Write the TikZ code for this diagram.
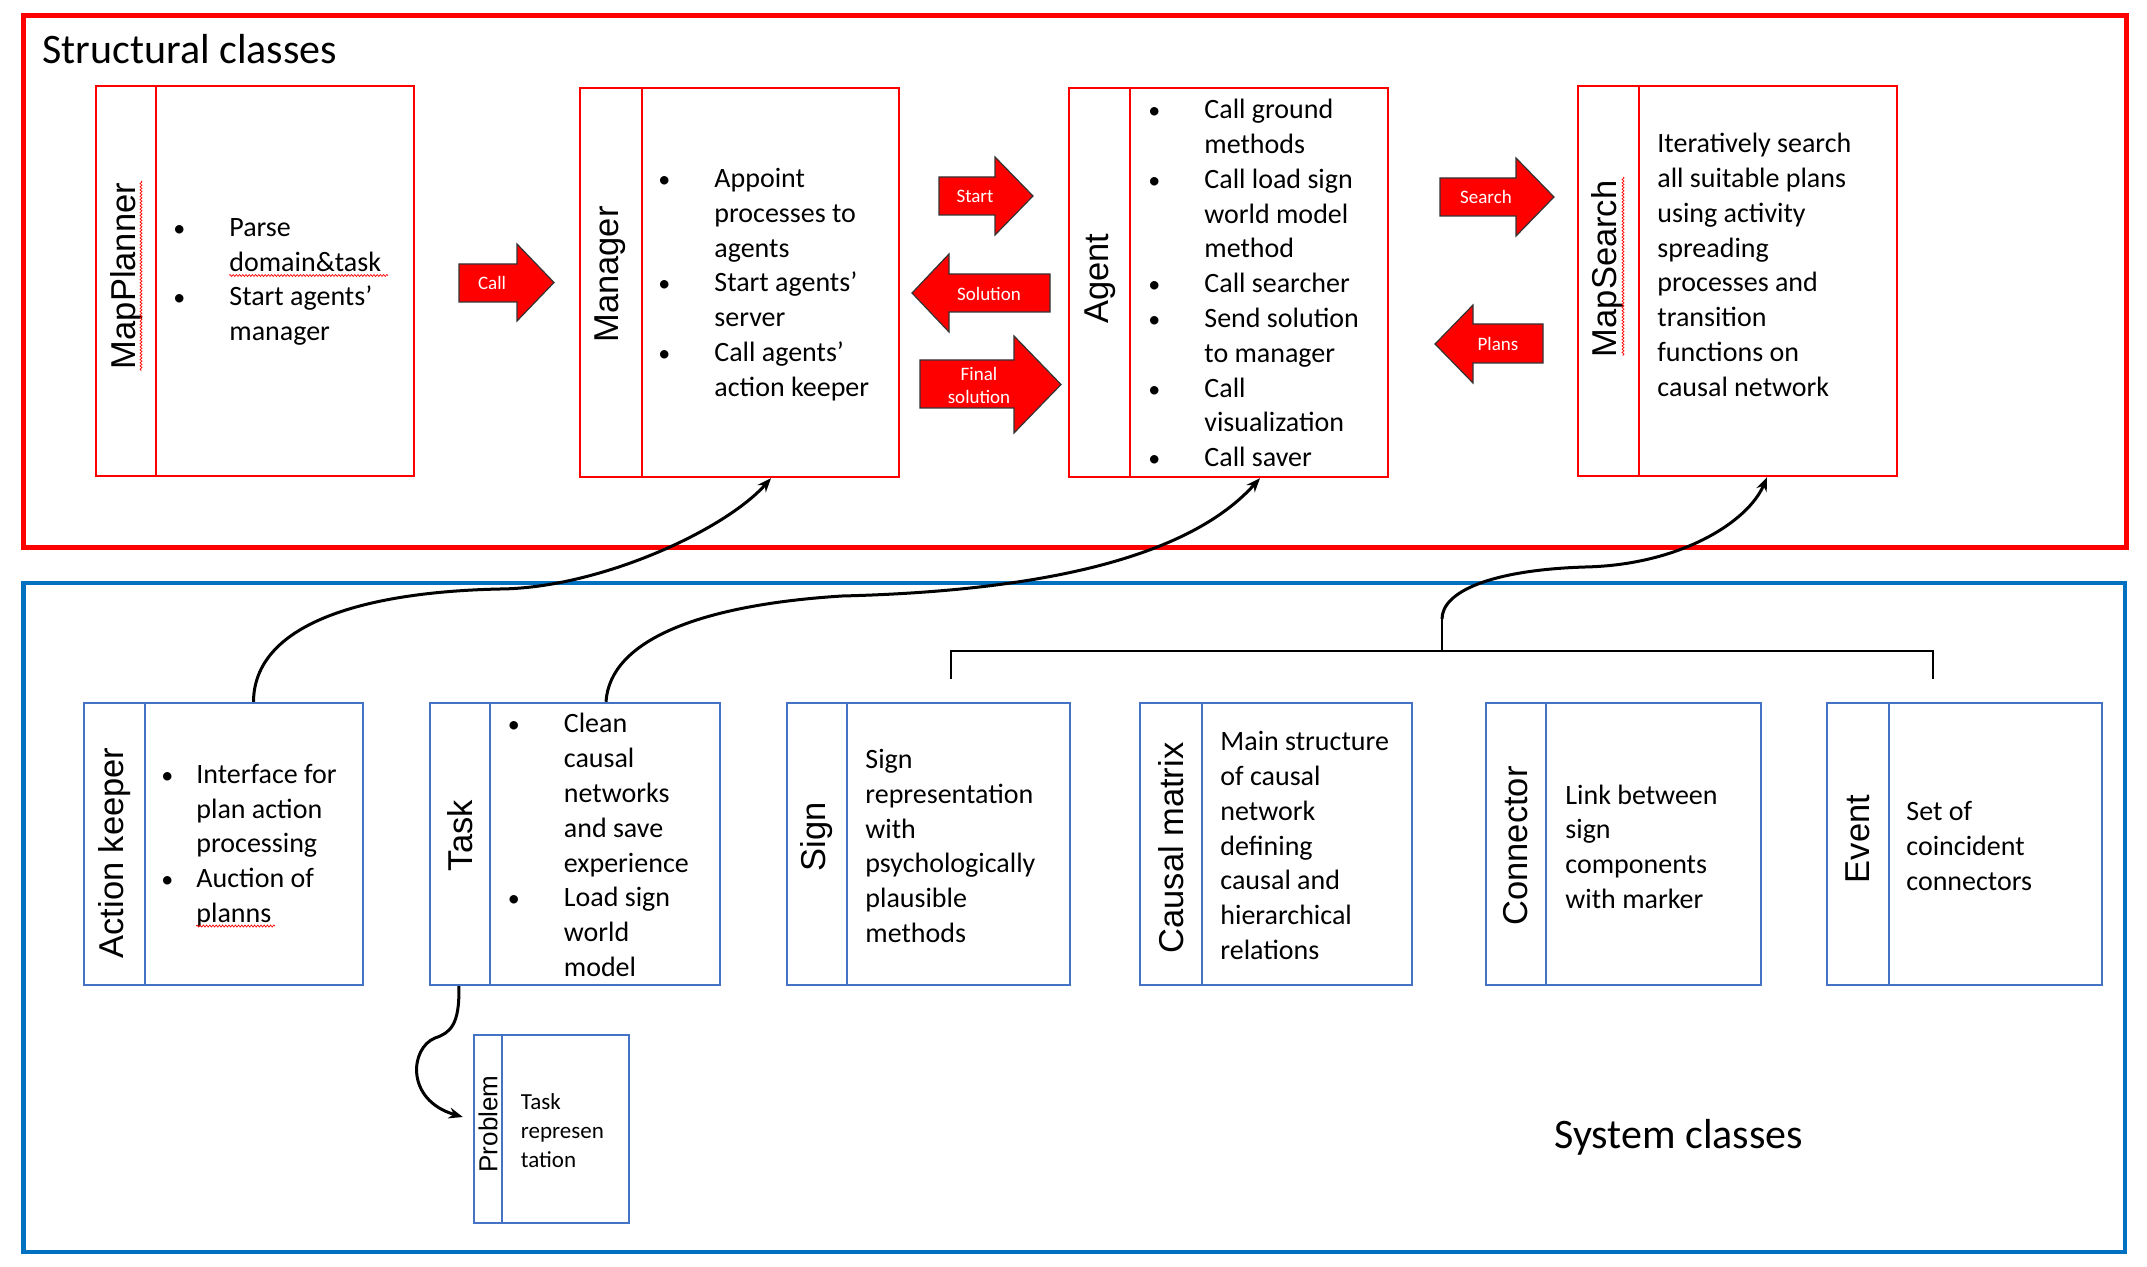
\documentclass[tikz,border=0pt]{standalone}
\usepackage{fontspec}
\setmainfont{Carlito}
\newfontfamily\ttlfont{Liberation Sans}
\usetikzlibrary{fit,arrows.meta,decorations.pathmorphing}
\definecolor{sred}{RGB}{255,0,0}
\definecolor{oblue}{RGB}{0,112,192}
\definecolor{iblue}{RGB}{68,114,196}
\newcommand\bul{\makebox[0pt]{\fontsize{12}{12}\selectfont\textbullet}}
\newcommand\bi[1]{\bul\hspace{25pt}#1}
\newcommand\bc[1]{\hspace*{25pt}#1}
\newcommand\bik[1]{\bul\hspace{14.5pt}#1}
\newcommand\bck[1]{\hspace*{14.5pt}#1}
\begin{document}
\begin{tikzpicture}[x=0.5pt,y=-0.5pt,
  rbox/.style={draw=sred,line width=1.2pt,inner sep=0pt},
  bbox/.style={draw=iblue,line width=1.2pt,inner sep=0pt},
  rdiv/.style={draw=sred,line width=1.2pt},
  bdiv/.style={draw=iblue,line width=1.2pt},
  ttl/.style={font=\ttlfont\fontsize{17.25}{20}\selectfont,rotate=90,inner sep=0pt},
  body/.style={font=\fontsize{14}{17.4}\selectfont,align=left,inner sep=0pt,anchor=west},
  barrow/.style={fill=sred,draw=black!80,line width=0.6pt},
  alab/.style={font=\fontsize{9.5}{11.5}\selectfont,text=white,align=center,inner sep=0pt},
  link/.style={draw=black,line width=1.5pt,-{Stealth[length=7pt,width=5.5pt]}},
  brk/.style={draw=black,line width=1pt},
  squig/.style={draw=sred,line width=0.35pt,decorate,decoration={snake,amplitude=0.5pt,segment length=1.6pt}},
  bigtitle/.style={font=\fontsize{21}{25}\selectfont,inner sep=0pt,anchor=base west}
]
\fill[white] (0,0) rectangle (2147,1267);
\useasboundingbox (0,0) rectangle (2147,1267);

% outer frames
\node[fit={(23.5,15.5)(2126.5,547.5)}, draw=sred, line width=2.25pt, inner sep=0pt] (structural) {};
\node[fit={(23.5,583)(2125,1252)}, draw=oblue, line width=2.25pt, inner sep=0pt] (system) {};
\node[bigtitle] (sttl) at (42,63.6) {Structural classes};
\node[bigtitle] (syttl) at (1554,1148) {System classes};

% structural classes
\node[rbox, fit={(96,86)(414,476)}] (mp) {};
\draw[rdiv] (156,86) -- (156,476);
\node[ttl] (mpT) at (126.3,276) {MapPlanner};
\node[body] (mpB) at (179,282) {\bi{Parse}\\ \bc{domain\&task}\\ \bi{Start agents’}\\ \bc{manager}};
\draw[squig] (141,181) -- (141,371);
\draw[squig] (229,275.5) -- (388,275.5);

\node[rbox, fit={(580,88)(899,477)}] (mgr) {};
\draw[rdiv] (642,88) -- (642,477);
\node[ttl] (mgrT) at (610,274.5) {Manager};
\node[body] (mgrB) at (664,284.5) {\bi{Appoint}\\ \bc{processes to}\\ \bc{agents}\\ \bi{Start agents’}\\ \bc{server}\\ \bi{Call agents’}\\ \bc{action keeper}};

\node[rbox, fit={(1069,88)(1388,477)}] (ag) {};
\draw[rdiv] (1130,88) -- (1130,477);
\node[ttl] (agT) at (1100.5,278.6) {Agent};
\node[body] (agB) at (1154,283) {\bi{Call ground}\\ \bc{methods}\\ \bi{Call load sign}\\ \bc{world model}\\ \bc{method}\\ \bi{Call searcher}\\ \bi{Send solution}\\ \bc{to manager}\\ \bi{Call}\\ \bc{visualization}\\ \bi{Call saver}};

\node[rbox, fit={(1578,86)(1897,476)}] (ms) {};
\draw[rdiv] (1639,86) -- (1639,476);
\node[ttl] (msT) at (1608,268.8) {MapSearch};
\draw[squig] (1623,177) -- (1623,356);
\node[body] (msB) at (1657,264.8) {Iteratively search\\ all suitable plans\\ using activity\\ spreading\\ processes and\\ transition\\ functions on\\ causal network};

% block arrows
\filldraw[barrow] (459,264) -- (517,264) -- (517,244) -- (554,282.5) -- (517,321) -- (517,302) -- (459,302) -- cycle;
\node[alab] (callL) at (492,283) {Call};
\filldraw[barrow] (939,177) -- (995,177) -- (995,157) -- (1033,196) -- (995,235) -- (995,215) -- (939,215) -- cycle;
\node[alab] (startL) at (975,196) {Start};
\filldraw[barrow] (1050,274) -- (949,274) -- (949,254) -- (912,293) -- (949,332) -- (949,312) -- (1050,312) -- cycle;
\node[alab] (solL) at (989,294) {Solution};
\filldraw[barrow] (920,360) -- (1014,360) -- (1014,336) -- (1061,384.5) -- (1014,433) -- (1014,408) -- (920,408) -- cycle;
\node[alab] (finL) at (979,385) {Final\\solution};
\filldraw[barrow] (1440,178) -- (1516,178) -- (1516,158) -- (1554,197) -- (1516,236) -- (1516,216) -- (1440,216) -- cycle;
\node[alab] (searchL) at (1486,197) {Search};
\filldraw[barrow] (1543,324) -- (1473,324) -- (1473,305) -- (1435,344) -- (1473,383) -- (1473,363) -- (1543,363) -- cycle;
\node[alab] (plansL) at (1498,344) {Plans};

% system classes
\node[bbox, fit={(84,703)(363,985)}] (ak) {};
\draw[bdiv] (145,703) -- (145,985);
\node[ttl] (akT) at (114.5,853) {Action keeper};
\node[body] (akB) at (167,845.5) {\bik{Interface for}\\ \bck{plan action}\\ \bck{processing}\\ \bik{Auction of}\\ \bck{planns}};
\draw[squig] (196,926) -- (275,926);

\node[bbox, fit={(430,703)(720,985)}] (task) {};
\draw[bdiv] (490,703) -- (490,985);
\node[ttl] (taskT) at (460,835.6) {Task};
\node[body] (taskB) at (513.5,845) {\bi{Clean}\\ \bc{causal}\\ \bc{networks}\\ \bc{and save}\\ \bc{experience}\\ \bi{Load sign}\\ \bc{world}\\ \bc{model}};

\node[bbox, fit={(787,703)(1070,985)}] (sign) {};
\draw[bdiv] (847,703) -- (847,985);
\node[ttl] (signT) at (817,837) {Sign};
\node[body] (signB) at (865,846) {Sign\\ representation\\ with\\ psychologically\\ plausible\\ methods};

\node[bbox, fit={(1140,703)(1412,985)}] (cm) {};
\draw[bdiv] (1202,703) -- (1202,985);
\node[ttl] (cmT) at (1171,848) {Causal matrix};
\node[body] (cmB) at (1220,845.5) {Main structure\\ of causal\\ network\\ defining\\ causal and\\ hierarchical\\ relations};

\node[bbox, fit={(1486,703)(1761,985)}] (cn) {};
\draw[bdiv] (1546,703) -- (1546,985);
\node[ttl] (cnT) at (1516,846) {Connector};
\node[body] (cnB) at (1565,846.7) {Link between\\ sign\\ components\\ with marker};

\node[bbox, fit={(1827,703)(2102,985)}] (ev) {};
\draw[bdiv] (1889,703) -- (1889,985);
\node[ttl] (evT) at (1858,839) {Event};
\node[body] (evB) at (1906,846) {Set of\\ coincident\\ connectors};

\node[bbox, fit={(474,1035)(629,1223)}] (prob) {};
\draw[bdiv] (502,1035) -- (502,1223);
\node[ttl, font=\ttlfont\fontsize{13}{15}\selectfont] (probT) at (488,1124) {Problem};
\node[body, font=\fontsize{11.5}{14.5}\selectfont] (probB) at (520.5,1131) {Task\\ represen\\ tation};

% bracket
\coordinate (brL) at (951,679);
\coordinate (brR) at (1933,679);
\coordinate (brM) at (1442,651);
\draw[brk] (brL) -- (951,651) -- (1933,651) -- (brR);
\draw[brk] (brM) -- (1442,619);

% links
\draw[link] ([xshift=15pt]ak.north) .. controls (254,625) and (360,592) .. (500,589)
  .. controls (600,588) and (725,530) .. ([xshift=15.75pt]mgr.south);
\draw[link] ([xshift=15.5pt]task.north) .. controls (610,640) and (700,605) .. (842,596)
  .. controls (1080,590) and (1200,545) .. ([xshift=15.75pt]ag.south);
\draw[link] (1442,619) .. controls (1442,592) and (1490,570) .. (1585,567)
  .. controls (1680,565) and (1748,522) .. ([xshift=14.75pt]ms.south);
\draw[link] ([xshift=15pt]task.south west) .. controls (460,1025) and (450,1033) .. (435,1038)
  .. controls (410,1048) and (405,1100) .. ([xshift=-5pt,yshift=6pt]prob.west);
\end{tikzpicture}
\end{document}
